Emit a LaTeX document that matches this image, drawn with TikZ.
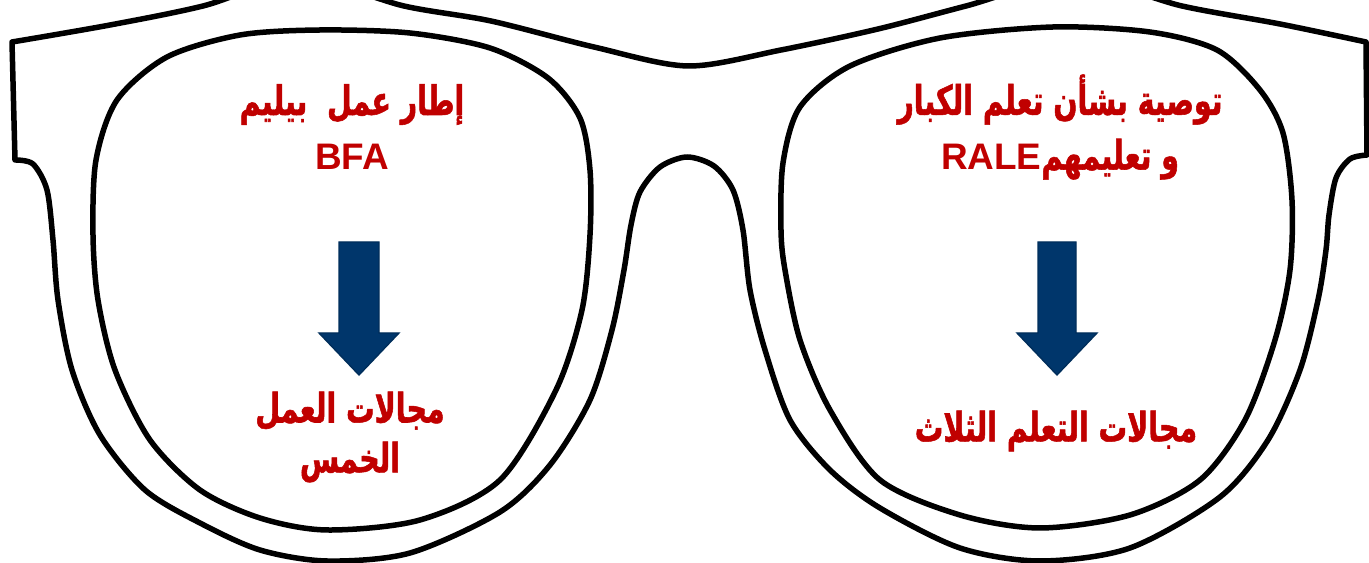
\documentclass[tikz,border=0pt]{standalone}
\usepackage{fontspec}
\setmainfont{Liberation Sans}
\newfontfamily\arabicfont[Script=Arabic, Scale=1.1, FakeStretch=0.70, FakeBold=1.3]{DejaVu Sans}
\TeXXeTstate=1
\usetikzlibrary{positioning}
\definecolor{lensred}{RGB}{192,0,0}
\definecolor{arrowblue}{RGB}{0,54,107}

\begin{document}
\begin{tikzpicture}[x=0.1mm, y=-0.1mm,
  frame/.style={line width=0.55mm, line join=round},
  lenstext/.style={text=lensred, font=\fontsize{10.5}{15.6}\selectfont\bfseries, align=center, inner sep=0pt},
  blockarrow/.style={fill=arrowblue, draw=arrowblue!85!black, line width=0.4pt}]
  \useasboundingbox (0,0) rectangle (1369,563);
  \clip (0,0) rectangle (1369,563);
  % outer outline of the glasses front
  \draw[frame] (12,42) -- plot[smooth] coordinates {(12,42) (110,25) (203,6) (300,-22) (404,6) (491,21) (594,47) (688,66) (781,50) (878,29) (966,6) (1075,-22) (1182,6) (1280,24) (1366,42)}
    -- (1367,155) -- plot[smooth] coordinates {(1367,155) (1350,159) (1336,178) (1329,215) (1326,250) (1318,300) (1300,370) (1268,440) (1220,497) (1130,548) (1040,561) (960,548) (880,508) (830,470) (790,420) (765,350) (750,290) (743,230) (733,190) (714,166) (687,157) (660,167) (640,192) (631,225) (624,270) (612,330) (590,400) (550,465) (500,512) (410,553) (327,561) (260,550) (200,523) (145,490) (100,435) (72,370) (58,300) (53,240) (47,190) (33,164) (15,160)}
    -- cycle;
  % lenses
  \draw[frame] plot[smooth cycle] coordinates {(320,30) (410,33) (490,48) (548,78) (580,118) (590,170) (590,235) (582,310) (556,390) (500,480) (420,520) (327,530) (260,518) (200,490) (150,440) (115,370) (98,300) (93,235) (96,160) (117,100) (167,57) (240,35)};
  \draw[frame] plot[smooth cycle] coordinates {(1053,27) (1150,32) (1217,50) (1260,90) (1283,133) (1292,200) (1290,270) (1275,340) (1245,420) (1200,480) (1130,515) (1040,528) (960,515) (880,480) (830,410) (800,340) (785,270) (781,230) (783,163) (800,107) (850,66) (940,38)};
  % left lens
  \node[lenstext] (ltitle) at (352,127) {{\arabicfont\beginR إطار عمل~~بيليم\endR}\\BFA};
  \filldraw[blockarrow] (339,242) -- (379,242) -- (379,333) -- (399,333) -- (359,375) -- (319,333) -- (339,333) -- cycle;
  \node[lenstext, font=\fontsize{10.5}{14.2}\selectfont\bfseries] (lfields) at (350,437) {{\arabicfont\beginR مجالات العمل\endR}\\{\arabicfont\beginR الخمس\endR}};
  % right lens
  \node[lenstext] (rtitle) at (1060,127) {{\arabicfont\beginR توصية بشأن تعلم الكبار\endR}\\{\arabicfont\beginR و تعليمهم\beginL\rmfamily RALE\endL\endR}};
  \filldraw[blockarrow] (1038,242) -- (1076,242) -- (1076,333) -- (1097,333) -- (1057,375) -- (1017,333) -- (1038,333) -- cycle;
  \node[lenstext] (rfields) at (1056,431) {\arabicfont\beginR مجالات التعلم الثلاث\endR};
\end{tikzpicture}
\end{document}
